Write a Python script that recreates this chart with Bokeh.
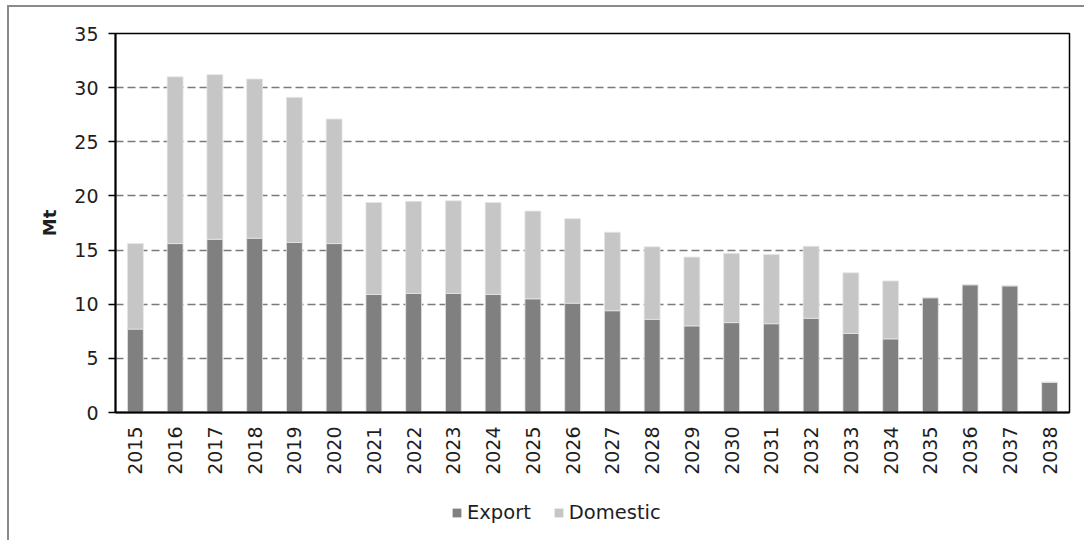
import math
from bokeh.plotting import figure
from bokeh.layouts import column
from bokeh.models import ColumnDataSource, Legend, FactorRange, FixedTicker, Range1d
from bokeh.embed import file_html
from bokeh.resources import INLINE

years = ["2015", "2016", "2017", "2018", "2019", "2020", "2021", "2022",
         "2023", "2024", "2025", "2026", "2027", "2028", "2029", "2030",
         "2031", "2032", "2033", "2034", "2035", "2036", "2037", "2038"]
export = [7.7, 15.6, 16.0, 16.1, 15.7, 15.6, 10.9, 11.0,
          11.0, 10.9, 10.5, 10.1, 9.4, 8.6, 8.0, 8.3,
          8.2, 8.7, 7.3, 6.8, 10.6, 11.8, 11.7, 2.8]
domestic = [7.9, 15.4, 15.2, 14.7, 13.4, 11.5, 8.5, 8.5,
            8.55, 8.5, 8.1, 7.8, 7.25, 6.7, 6.35, 6.4,
            6.4, 6.65, 5.6, 5.35, 0.0, 0.0, 0.0, 0.0]
y_ticks = [0, 5, 10, 15, 20, 25, 30, 35]
series = ["Export", "Domestic"]
colors = ["#808080", "#c6c6c6"]

FONT = "DejaVu Sans"
TXT = "#1e1e1e"
W = 1075

source = ColumnDataSource(dict(year=years, Export=export, Domestic=domestic))

p = figure(
    x_range=FactorRange(*years, range_padding=0),
    y_range=Range1d(0, 35),
    width=W, height=471,
    output_backend="svg", toolbar_location=None,
    min_border_left=106, min_border_right=15,
    min_border_top=26, min_border_bottom=66,
)

p.vbar_stack(series, x="year", width=0.4, source=source,
             color=colors, line_color="#e6e6e6", line_width=0.8)

p.outline_line_color = "black"
p.outline_line_width = 1.5
p.outline_line_alpha = 1.0

p.xgrid.grid_line_color = None
p.ygrid.grid_line_color = "#7a7a7a"
p.ygrid.grid_line_dash = "8 4"
p.ygrid.grid_line_width = 1.5
p.ygrid.ticker = FixedTicker(ticks=y_ticks)

ya = p.yaxis[0]
ya.ticker = FixedTicker(ticks=y_ticks)
ya.axis_label = "Mt"
ya.axis_label_text_font = FONT
ya.axis_label_text_font_style = "bold"
ya.axis_label_text_font_size = "18px"
ya.axis_label_text_color = TXT
ya.axis_label_standoff = 11
ya.major_label_text_font = FONT
ya.major_label_text_font_size = "19px"
ya.major_label_text_color = TXT
ya.major_label_standoff = 10
ya.axis_line_color = "black"
ya.axis_line_width = 2
ya.major_tick_line_color = "black"
ya.major_tick_line_width = 1.5
ya.major_tick_out = 7
ya.major_tick_in = 0
ya.minor_tick_line_color = None

xa = p.xaxis[0]
xa.major_label_orientation = math.pi / 2
xa.major_label_text_font = FONT
xa.major_label_text_font_size = "19px"
xa.major_label_text_color = TXT
xa.major_label_standoff = 14
xa.axis_line_color = "black"
xa.axis_line_width = 2
xa.major_tick_line_color = None
xa.major_tick_out = 0
xa.major_tick_in = 0
xa.minor_tick_line_color = None

# legend strip below the chart (its key renderers sit outside the visible range)
lg = figure(width=W, height=62, x_range=Range1d(0, 1), y_range=Range1d(1, 2),
            x_axis_type=None, y_axis_type=None,
            output_backend="svg", toolbar_location=None,
            min_border=0, min_border_left=0, min_border_right=0,
            min_border_top=0, min_border_bottom=0)
lg.outline_line_color = None
lg.grid.grid_line_color = None
key_src = ColumnDataSource(dict(x=[0.0], top=[0.0]))
items = []
for name, col in zip(series, colors):
    r = lg.vbar(x="x", top="top", width=0.1, source=key_src,
                fill_color=col, line_color=None)
    items.append((name, [r]))

legend = Legend(items=items, orientation="horizontal", location=(336, 16))
legend.border_line_color = None
legend.background_fill_alpha = 0
legend.label_text_font = FONT
legend.label_text_font_size = "19.5px"
legend.label_text_color = TXT
legend.glyph_width = 11
legend.glyph_height = 11
legend.label_standoff = 5
legend.spacing = 22
legend.padding = 0
legend.margin = 0
lg.add_layout(legend)

layout = column(p, lg, spacing=0, margin=(5, 0, 0, 7),
                styles={"border-left": "2px solid #8a8a8a",
                        "border-top": "2px solid #8a8a8a"})

open("out.html", "w").write(file_html(layout, INLINE))
